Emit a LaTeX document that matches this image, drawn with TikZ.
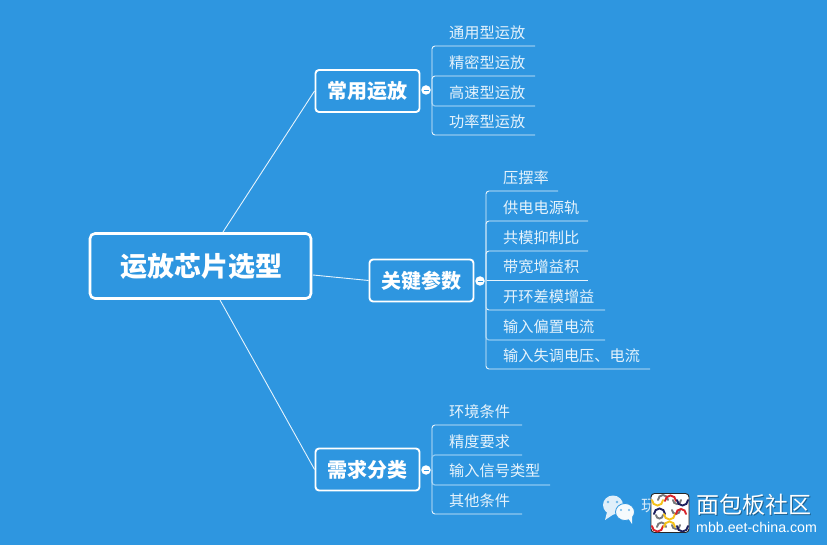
\documentclass[tikz,border=0pt]{standalone}
\usepackage{fontspec}
\setmainfont{Noto Sans CJK SC}
\newfontfamily\latinf{Liberation Sans}
\definecolor{bgc}{HTML}{2E96E0}
\definecolor{linec}{HTML}{E6F3FC}
\definecolor{softc}{HTML}{8CC8F2}
\definecolor{lgold}{HTML}{F5C21B}
\definecolor{lred}{HTML}{D8232A}
\definecolor{lnavy}{HTML}{1D1F5E}
\definecolor{lgray}{HTML}{77787B}
\tikzset{
  rootbox/.style={draw=white,line width=2.6pt,rounded corners=5pt,minimum width=221pt,minimum height=65pt,inner sep=0pt,text=white,font=\fontsize{27}{27}\selectfont\bfseries},
  topicbox/.style={draw=white,line width=1.9pt,rounded corners=3.5pt,minimum width=104pt,minimum height=42pt,inner sep=0pt,text=white,font=\fontsize{20}{20}\selectfont\bfseries},
  leaf/.style={anchor=west,inner sep=0pt,text=linec,font=\fontsize{15.2}{15.2}\selectfont},
  branch/.style={draw=linec,line width=0.9pt},
  under/.style={draw=linec,line width=0.9pt,rounded corners=3pt},
  soft/.style={draw=softc,line width=1.2pt,rounded corners=3pt},
  fold/.style={circle,fill=white,minimum size=9.5pt,inner sep=0pt,text=bgc},
  arcline/.style={line width=1.9pt,line cap=round},
}
\begin{document}
\begin{tikzpicture}[x=1pt,y=-1pt]
\useasboundingbox (0,0) rectangle (827,545);
\fill[bgc] (0,0) rectangle (827,545);
% main nodes
\node[rootbox] (root) at (200.5,266) {\raisebox{-0.5pt}{\hspace{1pt}运放芯片选型}};
\node[topicbox] (t1) at (367.5,91) {常用运放};
\node[topicbox] (t2) at (421.5,280.5) {关键参数};
\node[topicbox] (t3) at (367.5,469.5) {需求分类};
% branches
\coordinate (r1) at (223,232);
\coordinate (r2) at (313,275);
\coordinate (r3) at (220,300);
\draw[branch] (r1) -- (t1.west);
\draw[branch] (r2) -- (t2.west);
\draw[branch] (r3) -- (t3.west);
% fold marks
\node[fold] (f1) at (426,90) {};
\node[fold] (f2) at (480,281) {};
\node[fold] (f3) at (426,470) {};
\foreach \n in {f1,f2,f3} \draw[bgc,line width=0.8pt] ([xshift=-2.5pt]\n.center) -- ([xshift=2.5pt]\n.center);
% leaf group 1
\foreach \y/\t in {33/通用型运放,63/精密型运放,93/高速型运放,122/功率型运放}
  \node[leaf] at (449,\y) {\t};
\coordinate (h1) at (432,90);
\draw[under] (h1) |- (535,46);
\draw[under] (h1) |- (535,76);
\draw[soft] (h1) |- (535,106);
\draw[under] (h1) |- (535,135);
% leaf group 2
\foreach \y/\t in {178/压摆率,208/供电电源轨,238/共模抑制比,267/带宽增益积,297/开环差模增益,327/输入偏置电流,356/输入失调电压、电流}
  \node[leaf] at (503,\y) {\t};
\coordinate (h2) at (486,280);
\draw[under] (h2) |- (558,191);
\draw[under] (h2) |- (588,221);
\draw[under] (h2) |- (588,251);
\draw[under] (h2) -- (588,280);
\draw[under] (h2) |- (605,310);
\draw[soft] (h2) |- (605,340);
\draw[under] (h2) |- (650,369);
% leaf group 3
\foreach \y/\t in {412/环境条件,442/精度要求,471/输入信号类型,501/其他条件}
  \node[leaf] at (449,\y) {\t};
\coordinate (h3) at (432,470);
\draw[under] (h3) |- (522,425);
\draw[soft] (h3) |- (522,455);
\draw[soft] (h3) |- (550,485);
\draw[under] (h3) |- (522,514);
% watermark: speech bubbles
\fill[white!85!bgc] (613,505) ellipse (10pt and 9.5pt);
\fill[white!85!bgc] (607,512) -- (605,520) -- (614,514) -- cycle;
\fill[white!95!bgc,draw=bgc,line width=0.8pt] (625,512) ellipse (9.5pt and 8.5pt);
\fill[white!95!bgc] (628,518) -- (632,524) -- (632,516) -- cycle;
\fill[bgc!70!white] (608,502) circle (1.4pt) (617,502) circle (1.4pt) (621,510) circle (1.1pt) (629,510) circle (1.1pt);
\node[anchor=west,inner sep=0pt,text=white!80!bgc,font=\fontsize{16}{16}\selectfont] (wm) at (641,506) {玩};
% logo
\node[draw=black!85,line width=0.9pt,fill=white,rounded corners=3.5pt,minimum width=38pt,minimum height=39pt,inner sep=0pt] (logo) at (670,513) {};
\foreach \x/\y/\r/\s/\e/\c in {
  658/500/5/180/0/lgray, 673/500/4/180/360/lgray,
  656/515/3.5/180/360/lgray, 672/510/4/180/360/lgray,
  657/527/4.5/180/0/lgray, 672/525/4/180/360/lgray,
  652/500/5.5/180/360/lgold, 665/501/5.5/180/0/lred, 677/500/5.5/180/360/lnavy,
  654/514/5.5/180/0/lnavy, 664/514/5.5/180/360/lgold, 676/514/5/180/0/lred,
  652/526/5.5/180/360/lred, 664/527/5.5/180/0/lgold, 677/526/5.5/180/360/lnavy}
  \draw[\c,arcline] (\x,\y) arc[start angle=\s,end angle=\e,radius=\r pt];
% brand
\node[anchor=west,inner sep=0pt,text=black,opacity=0.35,font=\fontsize{23}{23}\selectfont] (brandshadow) at (697.7,505.7) {面包板社区};
\node[anchor=west,inner sep=0pt,text=white,font=\fontsize{23}{23}\selectfont] (brand) at (696.5,504.5) {面包板社区};
\node[anchor=west,inner sep=0pt,text=white,font=\latinf\fontsize{14.2}{14.2}\selectfont] (url) at (696,527) {mbb.eet-china.com};
\end{tikzpicture}
\end{document}
